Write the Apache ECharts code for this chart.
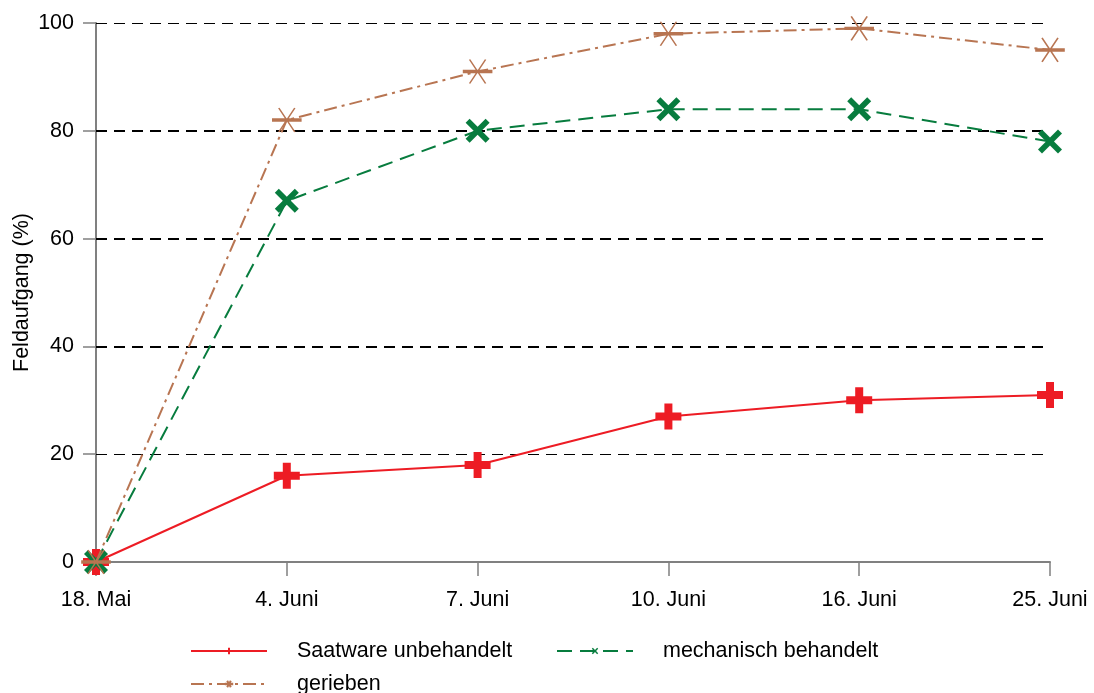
<!DOCTYPE html>
<html>
<head>
<meta charset="utf-8">
<script src="https://cdn.jsdelivr.net/npm/echarts@6/dist/echarts.min.js"></script>
<style>html,body{margin:0;padding:0;background:#fff}#c{width:1094px;height:693px}</style>
</head>
<body>
<div id="c"></div>
<script>
const categories = ['18. Mai', '4. Juni', '7. Juni', '10. Juni', '16. Juni', '25. Juni'];
const saatware = [0, 16, 18, 27, 30, 31];
const mechanisch = [0, 67, 80, 84, 84, 78];
const gerieben = [0, 82, 91, 98, 99, 95];
const yTicks = [0, 20, 40, 60, 80, 100];

const RED = '#ED1C24', GREEN = '#077C3E', BROWN = '#B87552';
const FONT = 'Liberation Sans, Arial, sans-serif';
const FS = 21.5;
const plusPath = 'path://M9,0 H17 V9 H26 V17 H17 V26 H9 V17 H0 V9 H9 Z';
const xPath = 'path://M0,4 L4,0 L12,8 L20,0 L24,4 L16,12 L24,20 L20,24 L12,16 L4,24 L0,20 L8,12 Z';
const starPath = 'path://M6,0 L22,24 M22,0 L6,24 M0,11 L28,11 L28,13 L0,13 Z';

const chart = echarts.init(document.getElementById('c'));
const legendBase = {
  orient: 'horizontal', itemWidth: 76, itemHeight: 8, padding: 0,
  textStyle: { fontFamily: FONT, fontSize: FS, color: '#000', padding: [0, 0, 0, 25] },
  selectedMode: false
};
chart.setOption({
  animation: false,
  backgroundColor: '#fff',
  grid: { left: 96, right: 44, top: 23, bottom: 131, containLabel: false, outerBoundsMode: 'none' },
  legend: [
    Object.assign({}, legendBase, { data: ['Saatware unbehandelt'], left: 190, top: 640 }),
    Object.assign({}, legendBase, { data: ['mechanisch behandelt'], left: 556, top: 640 }),
    Object.assign({}, legendBase, { data: ['gerieben'], left: 190, top: 673 })
  ],
  xAxis: {
    type: 'category', data: categories, boundaryGap: false,
    axisLine: { lineStyle: { color: '#808080', width: 2 } },
    axisTick: { alignWithLabel: true, length: 14, lineStyle: { color: '#808080', width: 1.5 } },
    axisLabel: { color: '#000', fontFamily: FONT, fontSize: FS, margin: 27 },
    splitLine: { show: false }
  },
  yAxis: {
    type: 'value', min: 0, max: 100, interval: 20,
    name: 'Feldaufgang (%)', nameLocation: 'middle', nameGap: 63, nameMoveOverlap: false,
    nameTextStyle: { fontFamily: FONT, fontSize: FS, color: '#000' },
    axisLine: { show: true, lineStyle: { color: '#808080', width: 2 } },
    axisTick: { show: true, length: 13, lineStyle: { color: '#808080', width: 1.5 } },
    axisLabel: { color: '#000', fontFamily: FONT, fontSize: FS, margin: 22,
      formatter: v => yTicks.includes(v) ? String(v) : '' },
    splitLine: { show: false }
  },
  series: [
    {
      name: 'Saatware unbehandelt', type: 'line', data: saatware, z: 3,
      symbol: plusPath, symbolSize: 26,
      itemStyle: { color: RED },
      lineStyle: { color: RED, width: 2 },
      markLine: {
        silent: true, symbol: 'none', label: { show: false }, z: 1,
        data: yTicks.filter(v => v > 0).map(v => ({
          yAxis: v,
          lineStyle: { color: '#000', type: [11, 7], width: (v === 100 || v === 20) ? 1 : 2 }
        }))
      }
    },
    {
      name: 'mechanisch behandelt', type: 'line', data: mechanisch, z: 4,
      symbol: xPath, symbolSize: 24,
      itemStyle: { color: GREEN },
      lineStyle: { color: GREEN, width: 2, type: [15, 8] }
    },
    {
      name: 'gerieben', type: 'line', data: gerieben, z: 5,
      symbol: starPath, symbolSize: [28, 24],
      itemStyle: { color: BROWN, borderColor: BROWN, borderWidth: 1.5 },
      lineStyle: { color: BROWN, width: 2, type: [13, 5, 3, 5] }
    }
  ]
});
</script>
</body>
</html>
